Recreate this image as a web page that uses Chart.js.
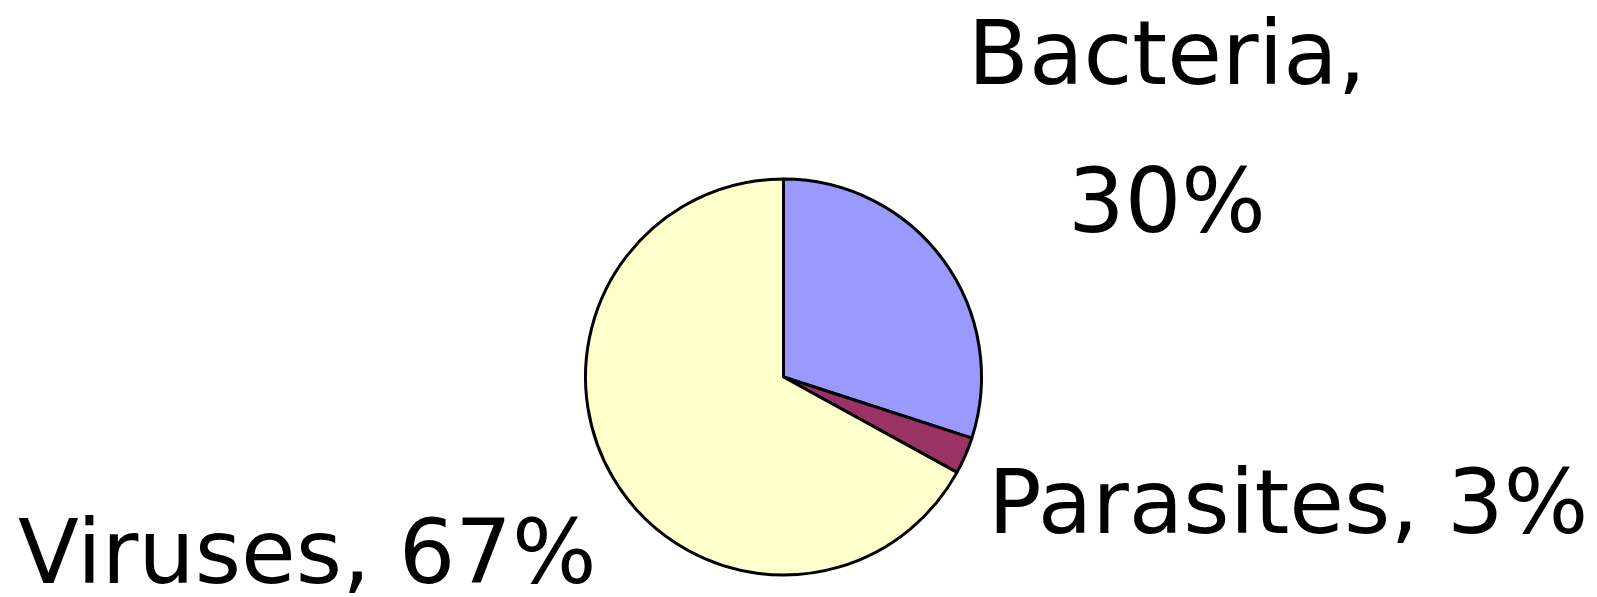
<!DOCTYPE html>
<html>
<head>
<meta charset="utf-8">
<script src="https://cdn.jsdelivr.net/npm/chart.js@4"></script>
<style>
    html, body { margin: 0; padding: 0; background: #fff; }
    canvas { display: block; }
</style>
</head>
<body>
<canvas id="pathogenChart" width="1597" height="597"></canvas>
<script>
const categories = ["Bacteria", "Parasites", "Viruses"];
const shares = [30, 3, 67];
const sliceColors = ["#9999FF", "#993366", "#FFFFCC"];

/* label placement (text only) */
const labelSpots = [
    { x: 1167, y: 84, align: "center", lines: 2, gap: 148 },
    { x: 988, y: 533, align: "left", lines: 1 },
    { x: 18, y: 583, align: "left", lines: 1 }
];

const pathogenChartCanvas = document.querySelector("#pathogenChart");

const sliceLabels = {
    id: "sliceLabels",
    afterDraw(chart) {
        const ctx = chart.ctx;
        ctx.save();
        ctx.fillStyle = "#000";
        ctx.font = "89px 'DejaVu Sans'";
        ctx.textBaseline = "alphabetic";
        categories.forEach((name, i) => {
            const spot = labelSpots[i];
            const pct = shares[i] + "%";
            ctx.textAlign = spot.align;
            if (spot.lines === 2) {
                ctx.fillText(name + ",", spot.x, spot.y);
                ctx.fillText(pct, spot.x, spot.y + spot.gap);
            } else {
                ctx.fillText(name + ", " + pct, spot.x, spot.y);
            }
        });
        ctx.restore();
    }
};

new Chart(pathogenChartCanvas, {
    type: "pie",
    data: {
        labels: categories,
        datasets: [
            {
                data: shares,
                backgroundColor: sliceColors,
                borderColor: "#000",
                borderWidth: 3
            }
        ]
    },
    options: {
        responsive: false,
        animation: false,
        layout: {
            padding: { top: 177, bottom: 20, left: 584, right: 614 }
        },
        plugins: {
            legend: { display: false },
            tooltip: { enabled: false }
        }
    },
    plugins: [sliceLabels]
});
</script>
</body>
</html>
